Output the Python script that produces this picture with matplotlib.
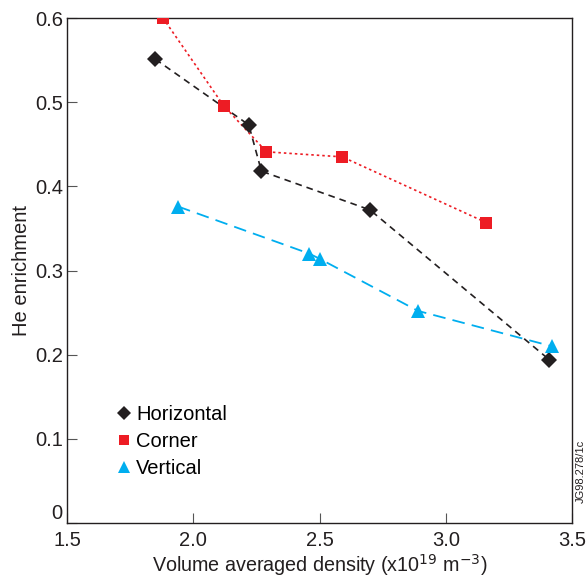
import matplotlib.pyplot as plt

plt.rcParams['font.family'] = ['Liberation Sans', 'DejaVu Sans']

# He enrichment versus volume averaged density, three divertor configurations
horizontal_density = [1.85, 2.22, 2.27, 2.70, 3.41]
horizontal_enrich = [0.551, 0.473, 0.418, 0.372, 0.194]

corner_density = [1.88, 2.12, 2.29, 2.59, 3.16]
corner_enrich = [0.600, 0.496, 0.441, 0.435, 0.357]

vertical_density = [1.94, 2.46, 2.50, 2.89, 3.42]
vertical_enrich = [0.376, 0.320, 0.314, 0.252, 0.210]

xticks = [1.5, 2.0, 2.5, 3.0, 3.5]
xtick_labels = ['1.5', '2.0', '2.5', '3.0', '3.5']
yticks = [0, 0.1, 0.2, 0.3, 0.4, 0.5, 0.6]
ytick_labels = ['0', '0.1', '0.2', '0.3', '0.4', '0.5', '0.6']

fig = plt.figure(figsize=(5.87, 5.8), dpi=100)
ax = fig.add_axes([67 / 587, 57 / 580, 505 / 587, 505 / 580])

black = '#231f20'
red = '#ed1c24'
cyan = '#00aeef'

# lines first, markers on top
ax.plot(horizontal_density, horizontal_enrich, color=black, lw=1.2,
        dashes=(4, 3), zorder=2)
ax.plot(corner_density, corner_enrich, color=red, lw=1.2,
        dashes=(1.5, 1.8), zorder=2)
ax.plot(vertical_density, vertical_enrich, color=cyan, lw=1.3,
        dashes=(7, 4), zorder=2)

ax.plot(horizontal_density, horizontal_enrich, 'D', color=black, ms=7.8,
        mew=0, zorder=3)
ax.plot(corner_density, corner_enrich, 's', color=red, ms=8.4,
        mew=0, zorder=3)
ax.plot(vertical_density, vertical_enrich, '^', color=cyan, ms=10.5,
        mew=0, zorder=3)

# legend shows markers only
h1, = ax.plot([], [], 'D', color=black, ms=7.5, mew=0)
h2, = ax.plot([], [], 's', color=red, ms=6.7, mew=0)
h3, = ax.plot([], [], '^', color=cyan, ms=8.4, mew=0)
ax.legend([h1, h2, h3], ['Horizontal', 'Corner', 'Vertical'],
          loc='center left', bbox_to_anchor=(0.097, 0.162), frameon=False,
          fontsize=14.5, handlelength=0.8, handletextpad=0.2,
          labelspacing=0.4, borderpad=0, borderaxespad=0)

ax.set_xlim(1.5, 3.5)
ax.set_ylim(0, 0.6)
ax.set_xticks(xticks)
ax.set_xticklabels(xtick_labels)
ax.set_yticks(yticks)
ax.set_yticklabels(ytick_labels)
ax.tick_params(direction='in', length=7, width=0.8, color='#555555',
               labelsize=14.5, labelcolor='#231f20')
ax.tick_params(axis='x', pad=6)
ax.tick_params(axis='y', pad=3)
# keep the zero label clear of the 1.5 below it
ax.get_yticklabels()[0].set_verticalalignment('bottom')

for spine in ax.spines.values():
    spine.set_color('#231f20')
    spine.set_linewidth(1.0)

ax.set_xlabel('Volume averaged density (x10$^{19}$ m$^{-3}$)',
              fontsize=14.2, color='#231f20', labelpad=1)
ax.set_ylabel('He enrichment', fontsize=14.5, color='#231f20', labelpad=3)

fig.text(576 / 587, 1 - 471 / 580, 'JG98.278/1c', rotation=90,
         fontsize=8, color='#231f20', ha='left', va='center')

fig.savefig('out.png', dpi=100)
